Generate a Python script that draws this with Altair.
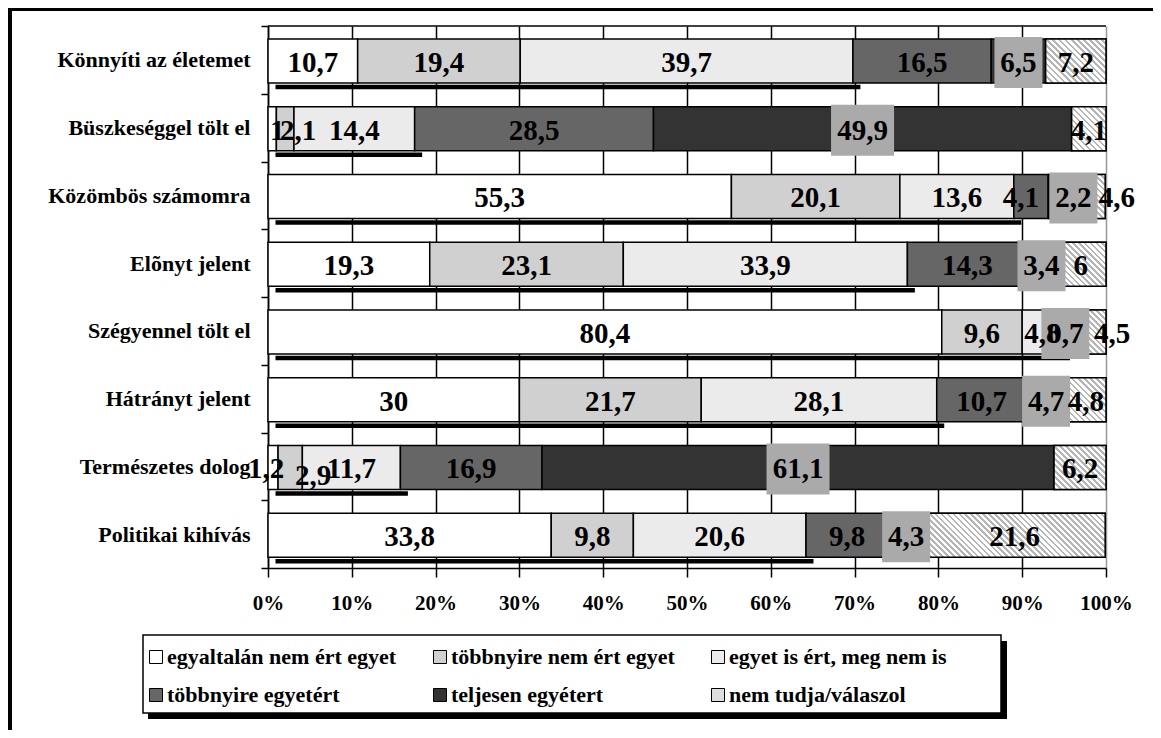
import altair as alt
import pandas as pd

items = ["Könnyíti az életemet", "Büszkeséggel tölt el", "Közömbös számomra", "Elõnyt jelent",
         "Szégyennel tölt el", "Hátrányt jelent", "Természetes dolog", "Politikai kihívás"]
categories = ["egyaltalán nem ért egyet", "többnyire nem ért egyet", "egyet is ért, meg nem is",
              "többnyire egyetért", "teljesen egyétert", "nem tudja/válaszol"]

egyaltalan = [10.7, 1, 55.3, 19.3, 80.4, 30, 1.2, 33.8]
tobbnyire_nem = [19.4, 2.1, 20.1, 23.1, 9.6, 21.7, 2.9, 9.8]
egyet_is = [39.7, 14.4, 13.6, 33.9, 4.8, 28.1, 11.7, 20.6]
tobbnyire_egyet = [16.5, 28.5, 4.1, 14.3, 0, 10.7, 16.9, 9.8]
teljesen = [6.5, 49.9, 2.2, 3.4, 0.7, 4.7, 61.1, 4.3]
nem_tudja = [7.2, 4.1, 4.6, 6, 4.5, 4.8, 6.2, 21.6]
series = [egyaltalan, tobbnyire_nem, egyet_is, tobbnyire_egyet, teljesen, nem_tudja]

colors = ["#ffffff", "#d0d0d0", "#ebebeb", "#666666", "#333333", "#dedede"]

# hand-moved data labels, as in the original (pixel nudges: item, category index -> (dx, dy))
label_nudges = {
    ("Büszkeséggel tölt el", 0): (5, 0),
    ("Büszkeséggel tölt el", 1): (13, 0),
    ("Közömbös számomra", 3): (-10, 0),
    ("Közömbös számomra", 4): (16, 0),
    ("Közömbös számomra", 5): (31, 0),
    ("Szégyennel tölt el", 5): (25, 0),
    ("Természetes dolog", 0): (-7, 0),
    ("Természetes dolog", 1): (23, 7),
}

W, H = 838, 542
PX = W / 100.0
BAR_H = 44
FONT = "Liberation Serif"


def fmt(v):
    return f"{v:g}".replace(".", ",")


rows = []
for i, it in enumerate(items):
    cum = 0.0
    for j, cat in enumerate(categories):
        v = series[j][i]
        dx, dy = label_nudges.get((it, j), (0, 0))
        rows.append(dict(item=it, cat=cat, order=j, value=v, start=cum, end=cum + v,
                         mid=cum + v / 2, label=fmt(v), dx=dx, dy=dy))
        cum += v
df = pd.DataFrame(rows)
under = pd.DataFrame({"item": items,
                      "total": [egyaltalan[i] + tobbnyire_nem[i] + egyet_is[i] for i in range(len(items))]})


def hatch(value, h=BAR_H, period=6.0, frac=0.45, gray="#b5b5b5"):
    w = value * PX
    n = max(1, int(round((w + h) / period)))
    k = (w + h) / (w * w + h * h)
    stops = []
    for i in range(n):
        a, b, c = i / n, (i + frac) / n, (i + 1) / n
        stops += [{"offset": a, "color": gray}, {"offset": b, "color": gray},
                  {"offset": b, "color": "#ffffff"}, {"offset": c, "color": "#ffffff"}]
    return {"gradient": "linear", "x1": 0, "y1": 1, "x2": k * w, "y2": 1 - k * h, "stops": stops}


conds = [{"test": f"datum.item === '{it}'", "value": hatch(nem_tudja[i])} for i, it in enumerate(items)]

yenc = alt.Y("item:N", sort=items, title=None,
             scale=alt.Scale(paddingInner=0, paddingOuter=0),
             axis=alt.Axis(tickBand="extent", ticks=True, tickSize=7, labelPadding=11, grid=False,
                           labelFontSize=22, labelLimit=400, domain=True))
xaxis = alt.Axis(values=list(range(0, 101, 10)), labelExpr="datum.value + '%'", grid=True,
                 gridColor={"condition": {"test": "datum.value === 100", "value": "#999999"}, "value": "#000000"},
                 gridWidth=1.5, tickSize=9, labelPadding=15, labelFontSize=21, labelFlush=False, domain=True)
xscale = alt.Scale(domain=[0, 100], nice=False)

base = alt.Chart(df)

bars = base.mark_bar(height=BAR_H, yOffset=1, stroke="black", strokeWidth=1.5).encode(
    y=yenc,
    x=alt.X("start:Q", scale=xscale, axis=xaxis, title=None),
    x2="end:Q",
    color=alt.Color("cat:N", scale=alt.Scale(domain=categories, range=colors),
                    legend=alt.Legend(orient="none", legendX=-123, legendY=620, direction="horizontal",
                                      columns=3, title=None, symbolType="square", symbolSize=169,
                                      symbolStrokeColor="black", symbolStrokeWidth=1,
                                      symbolOffset=0,
                                      labelFont=FONT, labelFontSize=22, labelFontWeight="bold",
                                      labelColor="black", labelOffset=0, labelLimit=400,
                                      padding=0, rowPadding=16, columnPadding=32)),
)

hatched = base.transform_filter(alt.datum.order == 5).mark_bar(
    height=BAR_H, yOffset=1, stroke="black", strokeWidth=1.5).encode(
    y=yenc, x=alt.X("start:Q", scale=xscale, axis=xaxis, title=None), x2="end:Q",
    fill={"condition": conds, "value": "#ffffff"},
)

underline = alt.Chart(under).mark_bar(height=4.5, yOffset=27, xOffset=7.5, x2Offset=8.5, color="black").encode(
    y=yenc, x=alt.X("total:Q", scale=xscale, axis=xaxis, title=None),
)

labelled = base.transform_filter(alt.datum.value > 0).transform_calculate(
    lx=f"datum.mid + datum.dx / {PX}")

boxes = labelled.transform_filter(alt.datum.order == 4).transform_calculate(
    lo=f"datum.lx - (length(datum.label) * 15 + 3) / {2 * PX}",
    hi=f"datum.lx + (length(datum.label) * 15 + 3) / {2 * PX}",
).mark_bar(height=51, yOffset=2.5, color="#aaaaaa").encode(
    y=yenc, x=alt.X("lo:Q", scale=xscale, axis=xaxis, title=None), x2="hi:Q",
)

labels = labelled.transform_filter(alt.datum.dy == 0).mark_text(
    font=FONT, fontSize=29, fontWeight="bold", color="black", baseline="middle", dy=3).encode(
    y=yenc, x=alt.X("lx:Q", scale=xscale, axis=xaxis, title=None), text="label:N",
)
labels_low = labelled.transform_filter(alt.datum.dy != 0).mark_text(
    font=FONT, fontSize=29, fontWeight="bold", color="black", baseline="middle", dy=10).encode(
    y=yenc, x=alt.X("lx:Q", scale=xscale, axis=xaxis, title=None), text="label:N",
)

one = alt.Data(values=[{"k": 1}])
top_line = alt.Chart(one).mark_rule(color="black", strokeWidth=1.5).encode(
    x=alt.value(0), x2=alt.value(W), y=alt.value(0))
frame_left = alt.Chart(one).mark_rect(color="black").encode(
    x=alt.value(-260), x2=alt.value(-256), y=alt.value(-18), y2=alt.value(712))
frame_top = alt.Chart(one).mark_rect(color="black").encode(
    x=alt.value(-260), x2=alt.value(885), y=alt.value(-18), y2=alt.value(-15))
legend_shadow = alt.Chart(one).mark_rect(color="black").encode(
    x=alt.value(-120), x2=alt.value(739), y=alt.value(615), y2=alt.value(693))
legend_box = alt.Chart(one).mark_rect(fill="white", stroke="black", strokeWidth=1.5).encode(
    x=alt.value(-125), x2=alt.value(733), y=alt.value(609), y2=alt.value(687))

chart = alt.layer(
    bars, hatched, underline, boxes, labels, labels_low, top_line, frame_left, frame_top,
    legend_shadow, legend_box
).properties(
    width=W, height=H, autosize="none",
    padding={"left": 260, "top": 18, "right": 47, "bottom": 162},
).configure_view(stroke=None).configure_axis(
    labelFont=FONT, labelFontWeight="bold", labelColor="black", domainColor="black", domainWidth=1.5,
    tickColor="black", tickWidth=1.5,
)

chart.save("out.html", embed_options={"renderer": "svg", "actions": False})
